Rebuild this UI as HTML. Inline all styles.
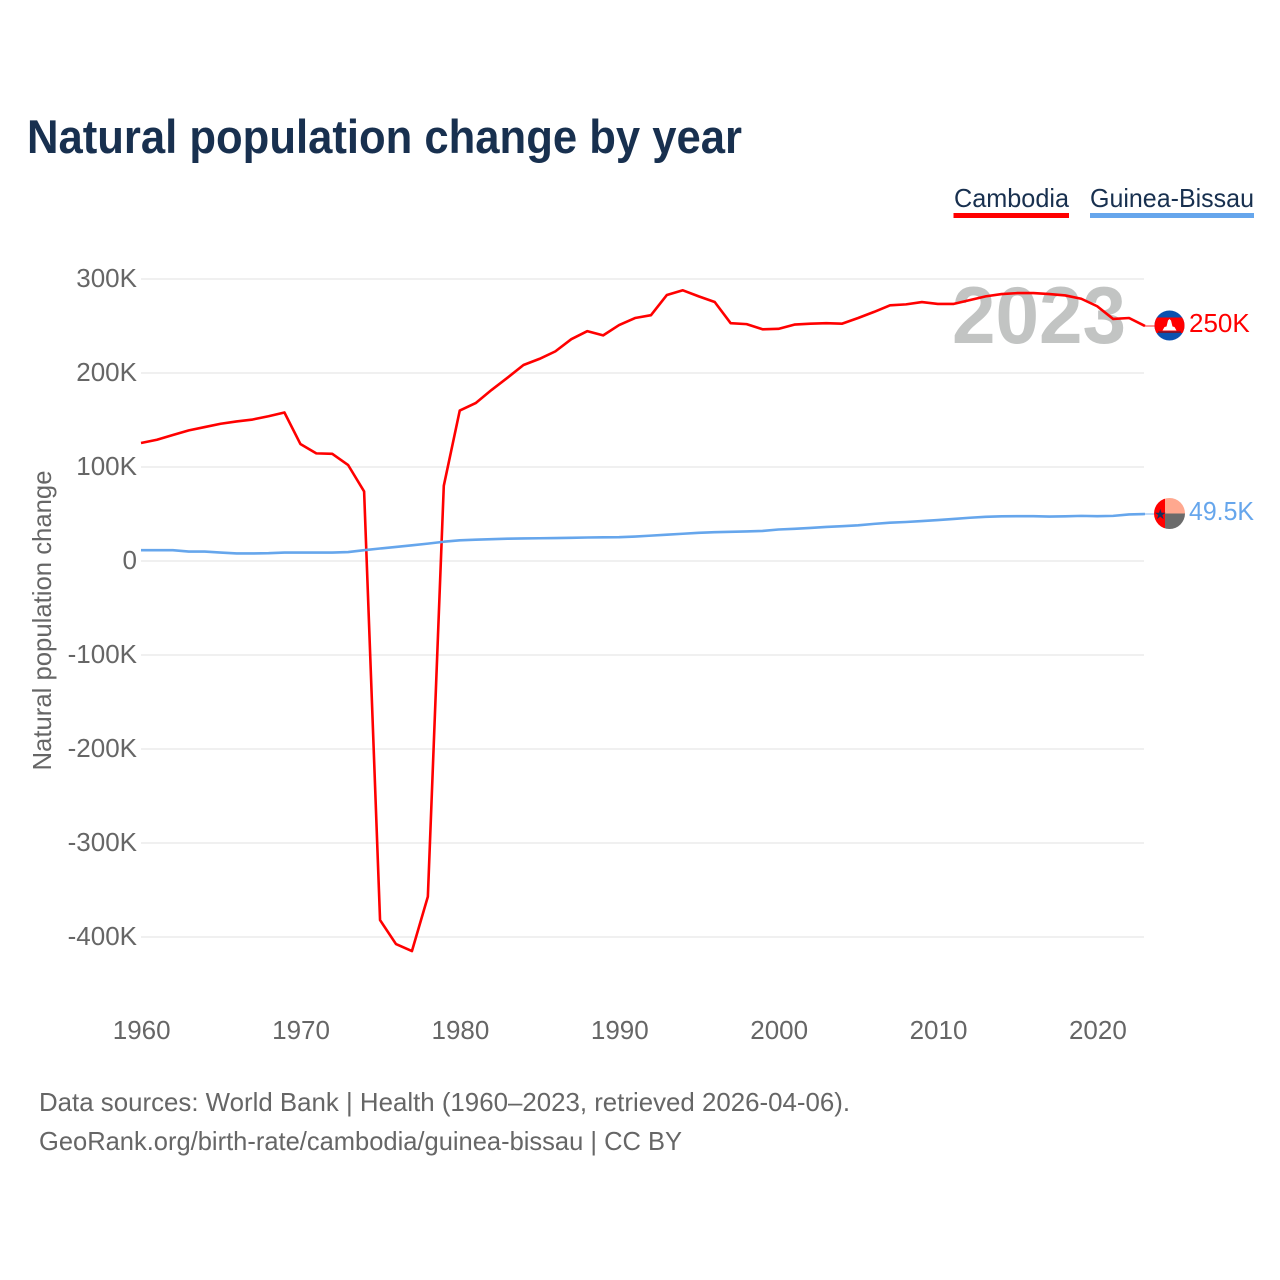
<!DOCTYPE html>
<html lang="en">
<head>
<meta charset="utf-8">
<title>Natural population change by year</title>
<style>
html,body{margin:0;padding:0;background:#fff;}
svg{display:block;font-family:"Liberation Sans",sans-serif;}
</style>
</head>
<body>
<svg id="chart" xmlns="http://www.w3.org/2000/svg" width="1280" height="1280" viewBox="0 0 1280 1280">
  <rect width="1280" height="1280" fill="#ffffff"/>
  <text x="27" y="153" font-size="47" font-weight="700" fill="#18304f" textLength="715" lengthAdjust="spacingAndGlyphs">Natural population change by year</text>
  <g>
    <text x="954" y="207" font-size="26" fill="#18304f" textLength="115" lengthAdjust="spacingAndGlyphs">Cambodia</text>
    <rect x="953.5" y="213" width="115.5" height="5" fill="#ff0000"/>
  </g>
  <g>
    <text x="1090" y="207" font-size="26" fill="#18304f" textLength="164" lengthAdjust="spacingAndGlyphs">Guinea-Bissau</text>
    <rect x="1090" y="213" width="164" height="5" fill="#66a6ec"/>
  </g>
  <g id="grid"></g>
  <g id="yticks"></g>
  <g id="xticks"></g>
  <text transform="translate(51,620.5) rotate(-90)" text-anchor="middle" font-size="26" fill="#666666" textLength="300" lengthAdjust="spacingAndGlyphs">Natural population change</text>
  <text x="1039" y="343" text-anchor="middle" font-size="81" font-weight="700" fill="#c2c4c3" textLength="174" lengthAdjust="spacingAndGlyphs">2023</text>
  <g id="series"></g>
  <g id="endpoints"></g>
  <text x="39" y="1111" font-size="26" fill="#666666" textLength="811" lengthAdjust="spacingAndGlyphs">Data sources: World Bank | Health (1960–2023, retrieved 2026-04-06).</text>
  <text x="39" y="1150" font-size="26" fill="#666666" textLength="643" lengthAdjust="spacingAndGlyphs">GeoRank.org/birth-rate/cambodia/guinea-bissau | CC BY</text>
</svg>
<script>
const startYear = 1960;
const endYear = 2023;
const yTickValues = [300, 200, 100, 0, -100, -200, -300, -400];
const yTickLabels = ["300K", "200K", "100K", "0", "-100K", "-200K", "-300K", "-400K"];
const xTickValues = [1960, 1970, 1980, 1990, 2000, 2010, 2020];
const xTickLabels = ["1960", "1970", "1980", "1990", "2000", "2010", "2020"];
const cambodiaValues = [125.5,129,134,139,142.5,146,148.5,150.5,154,158,124.5,114.5,114,102,74,-382,-407.5,-415,-357,80,160,168,182,195,208.5,215,223,236,244.5,240,251,258.5,261.5,283,288,281.5,275.5,253,252,246.5,247,251.5,252.5,253,252.5,258.5,265,272,273,275.5,273.5,273.5,277.5,281.5,284,285,285,284,282.5,279,271,257.5,258.5,250];
const guineaBissauValues = [11.5,11.5,11.5,10,10,9,8,8,8.3,9,9,9,9,9.5,11.5,13.3,15,16.7,18.5,20.5,22,22.7,23.2,23.7,24,24.2,24.4,24.7,25,25.2,25.3,26,27,28,29,30,30.7,31,31.5,32,33.5,34.2,35.2,36.2,37,38,39.5,40.8,41.5,42.5,43.5,44.7,46,47,47.5,47.7,47.7,47.3,47.5,48,47.7,48,49.5,50];
const endLabels = ["250K", "49.5K"];

const NS = "http://www.w3.org/2000/svg";
const xScale = function (year) { return 141 + (year - startYear) * (1145 - 141) / (endYear - startYear); };
const yScale = function (value) { return 561 - value * 0.94; };
const make = function (tag, attrs, parent) {
  const el = document.createElementNS(NS, tag);
  Object.keys(attrs).forEach(function (k) { el.setAttribute(k, attrs[k]); });
  parent.appendChild(el);
  return el;
};

const gridGroup = document.getElementById("grid");
const yGroup = document.getElementById("yticks");
yTickValues.forEach(function (value, i) {
  const line = make("line", { x1: 141, x2: 1144, y1: yScale(value), y2: yScale(value), stroke: "#f0f0f0", "stroke-width": 2 }, gridGroup);
  
  
  const label = make("text", { x: 137, y: yScale(value) + 8, "text-anchor": "end", "font-size": 26, fill: "#666666" }, yGroup);
  label.textContent = yTickLabels[i];
  
  
});

const xGroup = document.getElementById("xticks");
xTickValues.forEach(function (year, i) {
  const label = make("text", { x: xScale(year) + 0.7, y: 1039, "text-anchor": "middle", "font-size": 26, fill: "#666666" }, xGroup);
  label.textContent = xTickLabels[i];
  
  
});

const seriesGroup = document.getElementById("series");
const drawSeries = function (values, color) {
  const points = values.map(function (v, i) { return xScale(startYear + i).toFixed(2) + "," + yScale(v).toFixed(2); }).join(" ");
  return make("polyline", { points: points, fill: "none", stroke: color, "stroke-width": 2.6, "stroke-linejoin": "round" }, seriesGroup);
};
const cambodiaLine = drawSeries(cambodiaValues, "#ff0000");


const guineaLine = drawSeries(guineaBissauValues, "#66a6ec");



const endGroup = document.getElementById("endpoints");
const endX = xScale(endYear);
const cy1 = yScale(cambodiaValues[cambodiaValues.length - 1]) - 0.5;
const cy2 = yScale(guineaBissauValues[guineaBissauValues.length - 1]) - 0.5;

const conn1 = make("line", { x1: endX, x2: 1155, y1: cy1 + 0.5, y2: cy1 + 0.5, stroke: "#ff0000", "stroke-opacity": 0.55, "stroke-width": 1.5 }, endGroup);


const conn2 = make("line", { x1: endX, x2: 1155, y1: cy2 + 0.5, y2: cy2 + 0.5, stroke: "#66a6ec", "stroke-opacity": 0.55, "stroke-width": 1.5 }, endGroup);



const defs = make("defs", {}, endGroup);
const clip1 = make("clipPath", { id: "clip-kh" }, defs);
make("circle", { cx: 1169.5, cy: cy1, r: 15 }, clip1);
const clip2 = make("clipPath", { id: "clip-gw" }, defs);
make("circle", { cx: 1169.5, cy: cy2, r: 15.5 }, clip2);

const flag1 = make("g", { "clip-path": "url(#clip-kh)" }, endGroup);


make("rect", { x: 1154, y: cy1 - 16, width: 31, height: 32, fill: "#0b52b0" }, flag1);
make("rect", { x: 1154, y: cy1 - 8, width: 31, height: 15.5, fill: "#ff0000" }, flag1);
make("polygon", { points: [1162.5, cy1 + 5, 1164.5, cy1 + 1.5, 1166.5, cy1 + 1, 1168, cy1 - 5, 1169.5, cy1 - 6.5, 1171, cy1 - 5, 1172.5, cy1 + 1, 1174.5, cy1 + 1.5, 1176.5, cy1 + 5].join(" "), fill: "#ffffff" }, flag1);
make("rect", { x: 1158, y: cy1 + 6, width: 23, height: 1.2, fill: "#33254f" }, flag1);

const flag2 = make("g", { "clip-path": "url(#clip-gw)" }, endGroup);


make("rect", { x: 1154, y: cy2 - 16, width: 11, height: 32, fill: "#ff0000" }, flag2);
make("rect", { x: 1165, y: cy2 - 16, width: 20, height: 16, fill: "#ffa88f" }, flag2);
make("rect", { x: 1165, y: cy2, width: 20, height: 16, fill: "#6b6b6b" }, flag2);
const star = make("text", { x: 1160.3, y: cy2 + 5.5, "text-anchor": "middle", "font-size": 14, fill: "#16325c", style: 'font-family:"DejaVu Sans",sans-serif' }, flag2);
star.textContent = "★";

const valueLabel1 = make("text", { x: 1189, y: cy1 + 6.5, "font-size": 26, fill: "#ff0000" }, endGroup);
valueLabel1.textContent = endLabels[0];


const valueLabel2 = make("text", { x: 1189, y: cy2 + 6.5, "font-size": 26, fill: "#66a6ec", textLength: 65, lengthAdjust: "spacingAndGlyphs" }, endGroup);
valueLabel2.textContent = endLabels[1];


</script>
</body>
</html>
